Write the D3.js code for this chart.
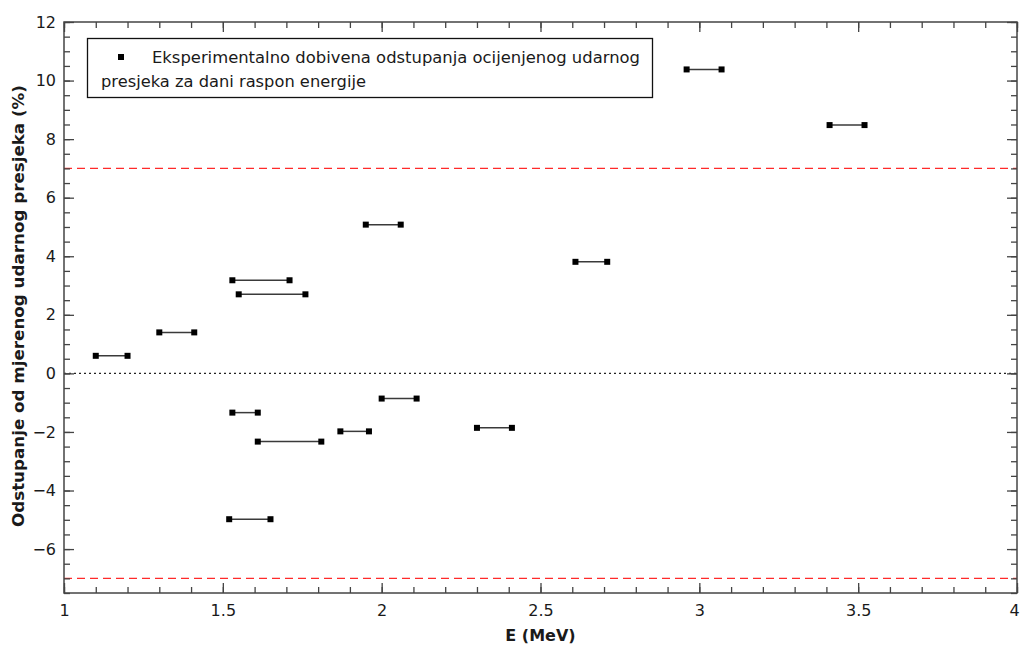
<!DOCTYPE html>
<html>
<head>
<meta charset="utf-8">
<script src="https://cdn.jsdelivr.net/npm/d3@7"></script>
<style>
  html, body { margin: 0; padding: 0; background: #fff; }
  svg { display: block; }
  text { font-family: "DejaVu Sans", Verdana, sans-serif; fill: #1a1a1a; }
</style>
</head>
<body>
<svg id="chart" width="1020" height="648"></svg>
<script>
// Energy intervals (MeV) and deviation (%)
const eStart = [1.10, 1.30, 1.53, 1.55, 1.53, 1.61, 1.87, 2.00, 2.30, 1.52, 2.96, 3.41, 1.95, 2.61];
const eEnd   = [1.20, 1.41, 1.71, 1.76, 1.61, 1.81, 1.96, 2.11, 2.41, 1.65, 3.07, 3.52, 2.06, 2.71];
const deviation = [0.6, 1.4, 3.18, 2.7, -1.34, -2.33, -1.98, -0.86, -1.86, -4.98, 10.38, 8.48, 5.08, 3.81];
const limitLines = [7, -7];
const xTicks = [1, 1.5, 2, 2.5, 3, 3.5, 4];
const yTicks = [-6, -4, -2, 0, 2, 4, 6, 8, 10, 12];
const xDomain = [1, 4];
const yDomain = [-7.5, 12];
const legendLines = ["Eksperimentalno dobivena odstupanja ocijenjenog udarnog", "presjeka za dani raspon energije"];
const xTitle = "E (MeV)";
const yTitle = "Odstupanje od mjerenog udarnog presjeka (%)";

const svg = d3.select("#chart");
const L = 64, R = 1017, T = 22, B = 593;
const x = d3.scaleLinear().domain(xDomain).range([L, R]);
const y = d3.scaleLinear().domain(yDomain).range([B, T]);

// Reference lines
const g = svg.append("g");
g.selectAll("line.limit").data(limitLines).join("line")
  .attr("class", "limit")
  .attr("x1", L).attr("x2", R)
  .attr("y1", d => y(d)).attr("y2", d => y(d))
  .attr("stroke", "#ff2a2a").attr("stroke-width", 1.4)
  .attr("stroke-dasharray", "8,5");
g.append("line")
  .attr("x1", L).attr("x2", R).attr("y1", y(0)).attr("y2", y(0))
  .attr("stroke", "#222").attr("stroke-width", 1.2)
  .attr("stroke-dasharray", "2,3");

// Axes with inward ticks
const xMinor = d3.range(10, 41).map(v => v / 10);
const yMinor = d3.range(-15, 25).map(v => v / 2);
const axisColor = "#444";
function styleAxis(sel) {
  sel.select(".domain").remove();
  sel.selectAll("line").attr("stroke", axisColor).attr("stroke-width", 1.3);
}
// minor
svg.append("g").attr("transform", `translate(0,${B})`)
  .call(d3.axisTop(x).tickValues(xMinor).tickSize(6).tickFormat("")).call(styleAxis);
svg.append("g").attr("transform", `translate(0,${T})`)
  .call(d3.axisBottom(x).tickValues(xMinor).tickSize(6).tickFormat("")).call(styleAxis);
svg.append("g").attr("transform", `translate(${L},0)`)
  .call(d3.axisRight(y).tickValues(yMinor).tickSize(6).tickFormat("")).call(styleAxis);
svg.append("g").attr("transform", `translate(${R},0)`)
  .call(d3.axisLeft(y).tickValues(yMinor).tickSize(6).tickFormat("")).call(styleAxis);
// major
svg.append("g").attr("transform", `translate(0,${B})`)
  .call(d3.axisTop(x).tickValues(xTicks).tickSize(10).tickFormat("")).call(styleAxis);
svg.append("g").attr("transform", `translate(0,${T})`)
  .call(d3.axisBottom(x).tickValues(xTicks).tickSize(10).tickFormat("")).call(styleAxis);
svg.append("g").attr("transform", `translate(${L},0)`)
  .call(d3.axisRight(y).tickValues(yTicks).tickSize(10).tickFormat("")).call(styleAxis);
svg.append("g").attr("transform", `translate(${R},0)`)
  .call(d3.axisLeft(y).tickValues(yTicks).tickSize(10).tickFormat("")).call(styleAxis);

// tick labels
const xl = svg.append("g").attr("transform", `translate(0,${B})`)
  .call(d3.axisBottom(x).tickValues(xTicks).tickSize(0).tickPadding(12).tickFormat(d3.format("")));
xl.select(".domain").remove();
xl.selectAll("text").attr("font-size", 16).attr("fill", "#1a1a1a")
  .attr("font-family", "DejaVu Sans, sans-serif")
  .attr("dx", d => d === xDomain[1] ? -3 : 0);
const yl = svg.append("g").attr("transform", `translate(${L},0)`)
  .call(d3.axisLeft(y).tickValues(yTicks).tickSize(0).tickPadding(8)
    .tickFormat(d => d < 0 ? "\u2212" + Math.abs(d) : String(d)));
yl.select(".domain").remove();
yl.selectAll("text").attr("font-size", 16).attr("fill", "#1a1a1a")
  .attr("font-family", "DejaVu Sans, sans-serif");

// Frame
svg.append("rect").attr("x", L).attr("y", T).attr("width", R - L).attr("height", B - T)
  .attr("fill", "none").attr("stroke", axisColor).attr("stroke-width", 1.5);

// Data segments
const data = eStart.map((s, i) => ({ s, e: eEnd[i], v: deviation[i] }));
const pts = svg.append("g");
pts.selectAll("line.seg").data(data).join("line")
  .attr("class", "seg")
  .attr("x1", d => x(d.s)).attr("x2", d => x(d.e))
  .attr("y1", d => y(d.v)).attr("y2", d => y(d.v))
  .attr("stroke", "#3a3a3a").attr("stroke-width", 1.5);
const ends = data.flatMap(d => [{ xv: d.s, v: d.v }, { xv: d.e, v: d.v }]);
pts.selectAll("rect.end").data(ends).join("rect")
  .attr("class", "end")
  .attr("x", d => x(d.xv) - 3).attr("y", d => y(d.v) - 3)
  .attr("width", 6).attr("height", 6).attr("fill", "#000");

// Legend
const lg = svg.append("g");
lg.append("rect").attr("x", 87.5).attr("y", 38.5).attr("width", 565).attr("height", 59)
  .attr("fill", "#fff").attr("stroke", "#111").attr("stroke-width", 1.3);
lg.append("rect").attr("x", 118).attr("y", 54).attr("width", 6).attr("height", 6).attr("fill", "#000");
lg.append("text").attr("x", 152).attr("y", 63).attr("font-size", 15)
  .attr("textLength", 488).attr("lengthAdjust", "spacingAndGlyphs").text(legendLines[0]);
lg.append("text").attr("x", 101).attr("y", 87).attr("font-size", 15)
  .attr("textLength", 265).attr("lengthAdjust", "spacingAndGlyphs").text(legendLines[1]);

// Axis titles
svg.append("text").attr("x", (L + R) / 2).attr("y", 641).attr("text-anchor", "middle")
  .attr("font-size", 16).attr("font-weight", "bold").text(xTitle);
svg.append("text").attr("transform", `translate(24,${306}) rotate(-90)`)
  .attr("text-anchor", "middle").attr("font-size", 16.5).attr("font-weight", "bold")
  .attr("textLength", 442).attr("lengthAdjust", "spacingAndGlyphs")
  .text(yTitle);
</script>
</body>
</html>
